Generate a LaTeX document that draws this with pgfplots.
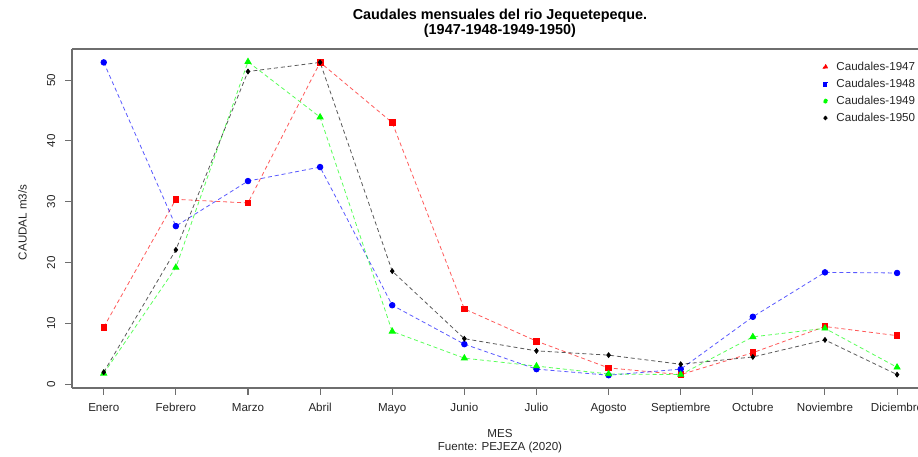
\documentclass[border=0pt]{standalone}
\usepackage{pgfplots}
\pgfplotsset{compat=1.18}
\usepackage{fontspec}
\setmainfont{Liberation Sans}
\definecolor{txt}{HTML}{262626}
\definecolor{axc}{HTML}{6E6E6E}
\definecolor{rgreen}{rgb}{0,1,0}
\pgfplotstableread{
x y1947 y1948 y1949 y1950
1  9.4  52.9  1.8  2.0
2  30.4 26.0  19.2 22.1
3  29.8 33.4  53.0 51.4
4  52.9 35.7  43.9 52.9
5  43.0 13.0  8.7  18.6
6  12.4 6.6   4.3  7.5
7  7.1  2.5   3.0  5.5
8  2.7  1.5   1.7  4.8
9  1.6  2.5   1.6  3.3
10 5.2  11.1  7.8  4.5
11 9.5  18.4  9.2  7.3
12 8.0  18.3  2.8  1.6
}\datatable
\begin{document}
\begin{tikzpicture}
\useasboundingbox (0,0) rectangle (688.5pt,342.75pt);
\begin{axis}[
  at={(54pt,51.75pt)}, anchor=south west,
  scale only axis, width=634.5pt, height=254.25pt,
  xmin=0.56, xmax=12.29, ymin=-0.6, ymax=55.1,
  axis x line=box, axis y line=left,
  axis line style={-, draw=axc, line width=0.8pt},
  tick align=outside, xtick pos=left, ytick pos=left,
  major tick length=5pt,
  tick style={draw=axc, line width=0.8pt},
  xtick={1,...,12},
  xticklabels={Enero,Febrero,Marzo,Abril,Mayo,Junio,Julio,Agosto,Septiembre,Octubre,Noviembre,Diciembre},
  ytick={0,10,20,30,40,50},
  tick label style={font=\fontsize{8.7}{10}\selectfont, text=txt},
  yticklabel style={rotate=90, anchor=south},
  yticklabel shift=4pt,
  xticklabel shift=3pt,
  /pgf/number format/assume math mode=true,
  legend style={draw=none, fill=none, at={(0.886,0.975)}, anchor=north west,
    font=\fontsize{8.7}{10}\selectfont, text=txt, row sep=1pt, column sep=4.5pt, inner sep=1pt},
  legend cell align=left,
  every axis plot/.append style={line width=0.6pt, dash pattern=on 3pt off 2.2pt, draw opacity=0.65},
]
\addplot[red, mark=square*, mark size=2.1pt, mark options={solid, draw opacity=1}, forget plot] table[x=x, y=y1947] {\datatable};
\addplot[blue, mark=*, mark size=2.1pt, mark options={solid, draw opacity=1}, forget plot] table[x=x, y=y1948] {\datatable};
\addplot[rgreen, mark=triangle*, mark size=2.6pt, mark options={solid, draw opacity=1}, forget plot] table[x=x, y=y1949] {\datatable};
\addplot[black, mark=diamond*, mark size=1.8pt, mark options={solid, draw opacity=1}, forget plot] table[x=x, y=y1950] {\datatable};
\addlegendimage{only marks, red, mark=triangle*, mark size=2pt, draw opacity=1}
\addlegendentry{Caudales-1947}
\addlegendimage{only marks, blue, mark=square*, mark size=1.5pt, draw opacity=1}
\addlegendentry{Caudales-1948}
\addlegendimage{only marks, rgreen, mark=*, mark size=1.5pt, draw opacity=1}
\addlegendentry{Caudales-1949}
\addlegendimage{only marks, black, mark=diamond*, mark size=1.7pt, draw opacity=1}
\addlegendentry{Caudales-1950}
\end{axis}
\node[anchor=base, font=\fontsize{10.8}{12}\selectfont\bfseries, text=black] at (375pt,327.75pt) {Caudales mensuales del rio Jequetepeque.};
\node[anchor=base, font=\fontsize{10.8}{12}\selectfont\bfseries, text=black] at (375pt,316.5pt) {(1947-1948-1949-1950)};
\node[anchor=base, font=\fontsize{8.7}{10}\selectfont, text=txt] at (375pt,14.25pt) {MES};
\node[anchor=base, font=\fontsize{8.7}{10}\selectfont, text=txt] at (375pt,4.5pt) {Fuente: PEJEZA (2020)};
\node[rotate=90, anchor=base, font=\fontsize{8.7}{10}\selectfont, text=txt] at (20pt,176pt) {CAUDAL m3/s};
\end{tikzpicture}
\end{document}
